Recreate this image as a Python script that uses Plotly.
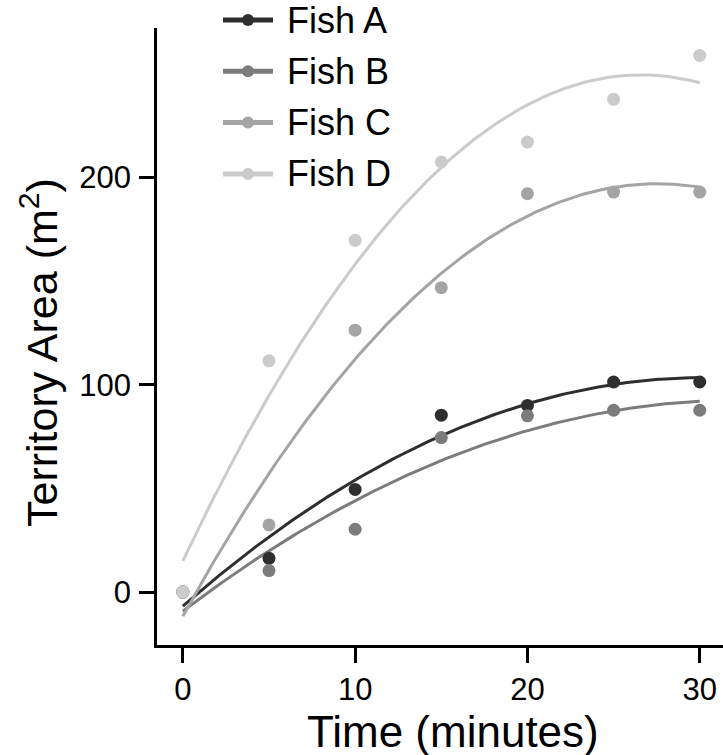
import numpy as np
import plotly.graph_objects as go

time_min = [0, 5, 10, 15, 20, 25, 30]
fish_names = ["Fish A", "Fish B", "Fish C", "Fish D"]
fish_a = [0, 16.3, 49.5, 85.3, 90.0, 101.3, 101.3]
fish_b = [0, 10.4, 30.3, 74.5, 85.0, 87.7, 87.7]
fish_c = [0, 32.4, 126.3, 146.8, 192.1, 192.9, 192.9]
fish_d = [0, 111.5, 169.6, 207.4, 217.0, 237.6, 258.8]
colors = ["#2e2e2e", "#7c7c7c", "#a4a4a4", "#cbcbcb"]
x_ticks = [0, 10, 20, 30]
y_ticks = [0, 100, 200]
x_title = "Time (minutes)"
y_title = "Territory Area (m<sup>2</sup>)"

FONT = "Liberation Sans, Arial, Helvetica, sans-serif"
series = [fish_a, fish_b, fish_c, fish_d]

# layout geometry (pixels)
W, H = 723, 755
ML, MR, MT, MB = 157, 0, 28, 110
PW, PH = W - ML - MR, H - MT - MB


def px_x(p):
    return (p - ML) / PW


def px_y(p):
    return (H - MB - p) / PH


fig = go.Figure()
xs = np.linspace(min(time_min), max(time_min), 200)
for name, vals, col in zip(fish_names, series, colors):
    coef = np.polyfit(time_min, vals, 2)
    fig.add_trace(go.Scatter(x=xs, y=np.polyval(coef, xs), mode="lines",
                             line=dict(color=col, width=3), showlegend=False,
                             hoverinfo="skip", name=name))
for name, vals, col in zip(fish_names, series, colors):
    fig.add_trace(go.Scatter(x=time_min, y=vals, mode="markers",
                             marker=dict(color=col, size=13), showlegend=False,
                             name=name))

# legend drawn as line + dot + text, top-left
shapes, annotations = [], []
for i, (name, col) in enumerate(zip(fish_names, colors)):
    yc = px_y(20 + 51.3 * i)
    shapes.append(dict(type="line", xref="paper", yref="paper",
                       x0=px_x(223), x1=px_x(273), y0=yc, y1=yc,
                       line=dict(color=col, width=5)))
    shapes.append(dict(type="circle", xref="paper", yref="paper",
                       xsizemode="pixel", ysizemode="pixel",
                       xanchor=px_x(248), yanchor=yc,
                       x0=-6, x1=6, y0=-6, y1=6,
                       fillcolor=col, line=dict(width=0)))
    annotations.append(dict(text=name, xref="paper", yref="paper",
                            x=px_x(285), y=yc, xanchor="left", yanchor="middle",
                            showarrow=False,
                            font=dict(size=36, family=FONT, color="black")))

annotations.append(dict(text=y_title, textangle=-90, xref="paper", yref="paper",
                        x=px_x(39), y=px_y(353), xanchor="center", yanchor="middle",
                        showarrow=False, font=dict(size=43, family=FONT, color="black")))
annotations.append(dict(text=x_title, xref="paper", yref="paper",
                        x=px_x(453), y=px_y(731), xanchor="center", yanchor="middle",
                        showarrow=False, font=dict(size=44, family=FONT, color="black")))

fig.update_layout(
    width=W, height=H,
    margin=dict(l=ML, r=MR, t=MT, b=MB),
    plot_bgcolor="white", paper_bgcolor="white",
    font=dict(family=FONT, color="black", size=31),
    showlegend=False,
    xaxis=dict(range=[-1.5, 31.35], tickvals=x_ticks, showgrid=False, zeroline=False,
               showline=True, linecolor="black", linewidth=2.5,
               ticks="outside", ticklen=15, tickwidth=2.5, tickcolor="black",
               tickfont=dict(size=31, family=FONT), ticklabelstandoff=0),
    yaxis=dict(range=[-25.5, 272], tickvals=y_ticks, showgrid=False, zeroline=False,
               showline=True, linecolor="black", linewidth=2.5,
               ticks="outside", ticklen=15, tickwidth=2.5, tickcolor="black",
               tickfont=dict(size=31, family=FONT), ticklabelstandoff=2),
    shapes=shapes,
    annotations=annotations,
)
fig.write_html("out.html")
